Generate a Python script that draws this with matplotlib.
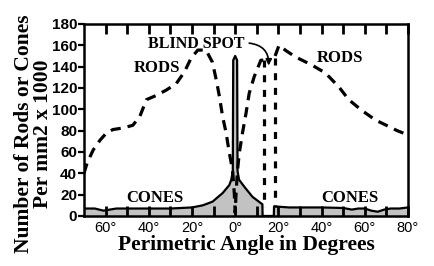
import numpy as np
import matplotlib
matplotlib.use('Agg')
import matplotlib.pyplot as plt

# Rods density (thousands per mm2), left of blind spot
rods_left_x = [-70, -68.5, -65.7, -62.6, -59.5, -56.6, -52, -47.4, -44.2, -41.1, -36.5,
               -31.9, -27.3, -23.5, -20.4, -17.3, -13.5, -10.5, -8.5, -7.3, -5.8, -4.2,
               -2.7, -1.2, -0.4, 0.0, 0.4, 1.1, 1.9, 3.4, 5.0, 6.5, 8.8, 11.9, 13.0]
rods_left_y = [40, 50, 62, 71, 78, 81, 82.5, 85, 93, 109, 113,
               118, 124, 135, 148, 155.5, 155.5, 144, 125, 112, 93, 78,
               59, 43, 21, 3, 21, 43, 59, 78, 96, 115, 130.5, 146, 146]
# Blind spot edges
spot_x = [13.3, 18.5]
spot_top = [146, 148]
# Rods right of blind spot
rods_right_x = [18.5, 20.3, 23.5, 28.0, 35.5, 41.8, 48, 52.6, 58.6, 64.9, 71, 75, 80]
rods_right_y = [150, 160, 155, 149, 141.5, 134, 121, 109, 99, 90, 84, 80, 76]

# Cones density
cones_x = [-70, -65, -61, -58, -55, -50, -45, -40, -35, -30, -25, -20, -15, -10.5, -5.8,
           -2.7, -1.8, -1.1, -0.9, 0.0, 0.9, 1.1, 1.8, 4.2, 8, 11.9, 12.6, 12.7,
           17.9, 18.0, 25, 30, 40, 50, 54, 57, 60, 63, 66, 69, 72, 76, 80]
cones_y = [7, 7, 5, 6, 7, 7, 7, 7, 7, 7, 7.5, 8, 10, 13.4, 21.5,
           29, 34, 42, 146, 150, 146, 42, 34, 27.5, 18, 12, 11, 0,
           0, 9, 8, 8, 8, 7.5, 6, 7, 7, 5, 4, 6, 7, 7, 8]

xticks = [-60, -40, -20, 0, 20, 40, 60, 80]
xtick_labels = ['60°', '40°', '20°', '0°', '20°', '40°', '60°', '80°']
yticks = np.arange(0, 181, 20)

fig = plt.figure(figsize=(4.34, 2.66), dpi=100)
ax = fig.add_axes([0.1935, 0.188, 0.7465, 0.722])

ax.fill_between(cones_x, cones_y, 0, color='#c2c2c2', lw=0)
ax.plot(cones_x, cones_y, color='black', lw=1.6, solid_joinstyle='round')

dash = (0, (3.2, 2.2))
ax.plot(rods_left_x, rods_left_y, color='black', lw=2.3, linestyle=dash)
ax.plot(rods_right_x, rods_right_y, color='black', lw=2.3, linestyle=dash)
for sx, st in zip(spot_x, spot_top):
    ax.plot([sx, sx], [st, 8], color='black', lw=2.3, linestyle=(0, (2.2, 2.4)))

serif = ['Liberation Serif', 'DejaVu Serif']
sans = ['Liberation Sans', 'DejaVu Sans']
ax.text(-18, 161, 'BLIND SPOT', family=serif, weight='bold', fontsize=11.5,
        ha='center', va='center')
ax.text(-36, 139, 'RODS', family=serif, weight='bold', fontsize=12, ha='center', va='center')
ax.text(48.5, 148, 'RODS', family=serif, weight='bold', fontsize=12, ha='center', va='center')
ax.text(-37, 17, 'CONES', family=serif, weight='bold', fontsize=12, ha='center', va='center')
ax.text(53, 17, 'CONES', family=serif, weight='bold', fontsize=12, ha='center', va='center')
ax.annotate('', xy=(15.5, 141), xytext=(6.5, 162),
            arrowprops=dict(arrowstyle='-|>', color='black', lw=1.2,
                            connectionstyle='arc3,rad=-0.45', mutation_scale=9,
                            shrinkA=0, shrinkB=0))

ax.set_xlim(-70, 80)
ax.set_ylim(0, 180)
ax.set_xticks(xticks)
ax.set_xticks(np.arange(-60, 80, 10), minor=True)
ax.tick_params(axis='x', which='both', direction='in', top=True, bottom=True,
               length=7, width=2.0, color='black')
ax.set_xticklabels(xtick_labels, fontsize=10.5, family=sans)
ax.set_yticks(yticks)
ax.set_yticklabels([str(v) for v in yticks], fontsize=11, weight='bold', family=sans)
ax.tick_params(axis='y', direction='out', length=4, width=1.6, pad=1)
for s in ax.spines.values():
    s.set_linewidth(1.8)

ax.set_xlabel('Perimetric Angle in Degrees', family=serif, weight='bold',
              fontsize=15.5, labelpad=0)
ax.set_ylabel('Number of Rods or Cones\nPer mm2 x 1000', family=serif, weight='bold',
              fontsize=15.5, linespacing=0.95)
ax.yaxis.set_label_coords(-0.095, 0.43)

fig.savefig('out.png', dpi=100)
